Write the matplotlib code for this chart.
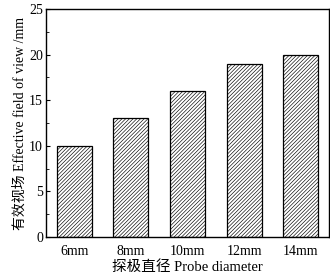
import matplotlib.pyplot as plt
from matplotlib.ticker import MultipleLocator

categories = ["6mm", "8mm", "10mm", "12mm", "14mm"]
field_of_view = [10, 13, 16, 19, 20]

plt.rcParams["font.family"] = ["Liberation Serif", "Noto Sans CJK SC"]
plt.rcParams["hatch.color"] = "#b4b4b4"
plt.rcParams["hatch.linewidth"] = 0.45

fig = plt.figure(figsize=(3.3, 2.78), dpi=100)
ax = fig.add_axes([0.139, 0.147, 0.858, 0.821])

x = list(range(len(categories)))
ax.bar(x, field_of_view, width=0.62, color="white", edgecolor="black",
       linewidth=0.9, hatch="/////////")

ax.set_xlim(-0.5, 4.5)
ax.set_ylim(0, 25)
ax.set_xticks(x)
ax.set_xticklabels(categories, fontsize=10)
ax.yaxis.set_major_locator(MultipleLocator(5))
ax.yaxis.set_minor_locator(MultipleLocator(2.5))
ax.tick_params(axis="y", direction="in", labelsize=10, length=3, width=0.8, pad=2)
ax.tick_params(axis="y", which="minor", direction="in", length=2, width=0.6)
ax.tick_params(axis="x", length=0, pad=6)
for s in ax.spines.values():
    s.set_linewidth(1.0)

ax.set_xlabel("探极直径 Probe diameter", fontsize=10.5, labelpad=1)
ax.set_ylabel("有效视场 Effective field of view /mm", fontsize=10, labelpad=2)

fig.savefig("out.png", dpi=100)
